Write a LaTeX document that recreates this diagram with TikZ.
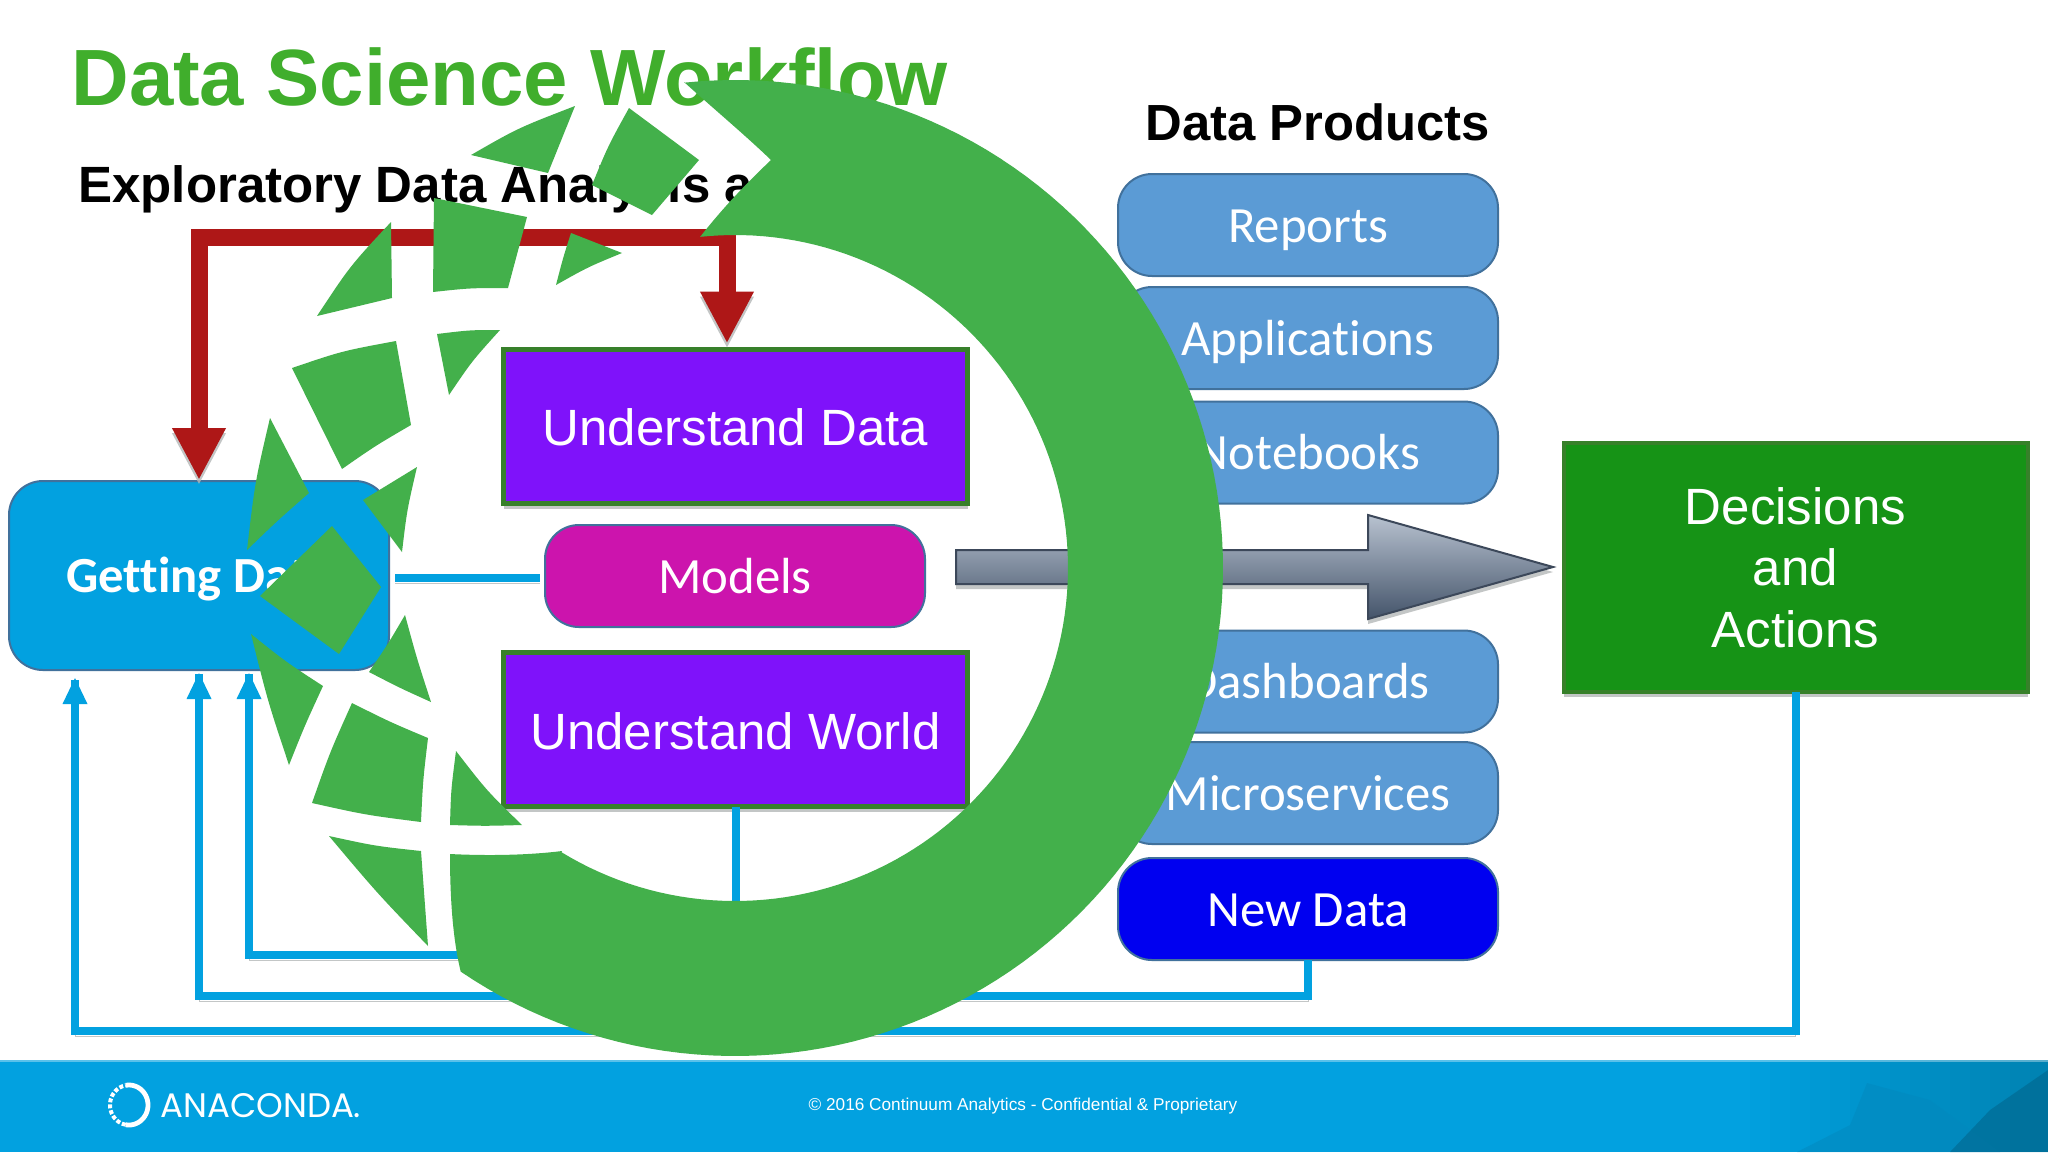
\documentclass[tikz,border=0pt]{standalone}
\usepackage{fontspec}
\setmainfont{Liberation Sans}
\newfontfamily\calfont[Ligatures=NoCommon]{Carlito}
\newfontfamily\logofont{Poppins}
\usetikzlibrary{arrows.meta,calc}
\definecolor{ringg}{HTML}{43B04B}
\definecolor{titleg}{HTML}{40AE2C}
\definecolor{redl}{HTML}{AE1717}
\definecolor{cyanb}{HTML}{02A1E0}
\definecolor{purp}{HTML}{7F12FA}
\definecolor{magb}{HTML}{CC14AD}
\definecolor{prod}{HTML}{5B9BD5}
\definecolor{decg}{HTML}{169316}
\definecolor{darkg}{HTML}{37802A}
\definecolor{edgeb}{HTML}{41719C}
\definecolor{shgray}{HTML}{B5B8B8}
\definecolor{newb}{HTML}{0000F0}
\definecolor{arrtop}{HTML}{B8C2D0}
\definecolor{arrbot}{HTML}{44546A}
\definecolor{arredge}{HTML}{3C485A}
\tikzset{
 allbox/.style={inner sep=0pt,outer sep=0pt,align=center,text=white},
 prodbox/.style={allbox,draw=edgeb,line width=1pt,fill=prod,rounded corners=17pt,minimum width=190pt,minimum height=51pt,text height=17.4pt,text depth=0pt,font=\calfont\fontsize{25.4}{28}\selectfont},
 purpbox/.style={allbox,draw=darkg,line width=2.5pt,fill=purp,minimum width=232pt,minimum height=77pt,text height=19pt,text depth=0pt,font=\fontsize{25.5}{28}\selectfont},
 shad/.style={preaction={draw=shgray,opacity=.8,transform canvas={yshift=-2.5pt}}},
 boxshad/.style={preaction={fill=shgray,draw=none,opacity=.8,transform canvas={yshift=-2.5pt}}},
 cyanline/.style={draw=cyanb,line width=4pt,shad},
 redline/.style={draw=redl,line width=8.5pt,shad,{Triangle[length=26pt,width=25pt]}-{Triangle[length=26pt,width=25pt]}},
 ringpart/.style={fill=ringg,draw=none},
}
\begin{document}
\begin{tikzpicture}[x=0.5pt,y=-0.5pt]
\useasboundingbox (0,0) rectangle (2048,1152);
\fill[white] (0,0) rectangle (2048,1152);
% footer
\fill[cyanb] (0,1060) rectangle (2048,1152);
\foreach \i in {0,...,14} {\fill[black,opacity=.012] ({1750+20*\i},1060) rectangle (2048,1152);}
\fill[cyanb!85!black,opacity=.5] (1797,1152) -- (1850,1125) -- (1867,1083) -- (1930,1100) -- (2000,1152) -- cycle;
\fill[cyanb!60!black,opacity=.5] (1950,1152) -- (1990,1110) -- (2048,1070) -- (2048,1152) -- cycle;
\fill[white,opacity=.35] (0,1059) rectangle (2048,1062);
\draw[white,line width=2.4pt] plot[domain=-100:100,samples=40] ({129+19*cos(\x)},{1105+20*sin(\x)});
\draw[white,line width=2pt,dash pattern=on 2pt off 1pt] plot[domain=100:260,samples=40] ({129+19*cos(\x)},{1105+20*sin(\x)});
\node[anchor=base west,inner sep=0pt,text=white,font=\logofont\fontsize{17}{18}\selectfont] (logo) at (160,1117) {ANACONDA.};
\node[anchor=center,inner sep=0pt,text=white,font=\fontsize{8.6}{10}\selectfont] (copy) at (1023,1106.5) {© 2016 Continuum Analytics - Confidential \& Proprietary};
% titles
\node[anchor=base west,inner sep=0pt,text=titleg,font=\bfseries\fontsize{39.9}{40}\selectfont] (title) at (71,105) {Data Science Workflow};
\node[anchor=base west,inner sep=0pt,text=black,font=\bfseries\fontsize{25.5}{26}\selectfont] (sub) at (78,202) {Exploratory Data Analysis a};
\node[anchor=base west,inner sep=0pt,text=black,font=\bfseries\fontsize{25.4}{26}\selectfont] (dp) at (1145,140) {Data Products};
% boxes
\node[allbox,draw=edgeb,line width=1pt,fill=cyanb,rounded corners=17pt,minimum width=190pt,minimum height=94.5pt,text height=16.8pt,text depth=0pt,font=\calfont\bfseries\fontsize{25.3}{28}\selectfont] (gd) at (199,575.5) {Getting Data};
\node[prodbox] (rep) at (1308,225) {Reports};
\node[prodbox] (app) at (1308,338) {Applications};
\node[prodbox] (note) at (1308,452.5) {Notebooks};
\node[prodbox] (dash) at (1308,681.5) {Dashboards};
\node[prodbox] (micro) at (1308,793) {Microservices};
\node[prodbox,fill=newb] (new) at (1308,909) {New Data};
\node[purpbox,boxshad] (ud) at (735.5,426.5) {Understand Data};
\node[purpbox,boxshad,text height=20pt] (uw) at (735.5,729.5) {Understand World};
\node[prodbox,fill=magb] (models) at (735,576) {Models};
\node[allbox,draw=darkg,line width=2pt,fill=decg,minimum width=232pt,minimum height=124.5pt,font=\fontsize{25.5}{30.7}\selectfont,boxshad] (dec) at (1795.5,567.5) {Decisions\\and\\Actions};
% gray arrow
\fill[shgray,opacity=.8] (956,555) -- (1368,555) -- (1368,520) -- (1553,572) -- (1368,624) -- (1368,589) -- (956,589) -- cycle;
\path[draw=arredge,line width=1pt,top color=arrtop,bottom color=arrbot] (956,550) -- (1368,550) -- (1368,515) -- (1553,567) -- (1368,619) -- (1368,584) -- (956,584) -- cycle;
% connectors
\coordinate (redL) at (199,237);
\coordinate (redR) at (727,237);
\draw[redline] ($(gd.north)+(0,-1)$) -- (redL) -- (redR) -- ($(ud.north)+(-8.5,-6)$);
\draw[cyanline,shorten <=3pt,shorten >=2.5pt] ($(gd.east)+(0,2.5)$) -- ($(models.west)+(0,2)$);
\coordinate (c1) at (75,1031);
\coordinate (c2) at (199,996);
\coordinate (c3) at (249,955);
\draw[cyanline] (dec.south) -- (dec.south |- c1) -- (c1) -- ($(c1 |- gd.south)+(0,10)$);
\draw[cyanline] (new.south) -- (new.south |- c2) -- (c2) -- ($(c2 |- gd.south)+(0,4)$);
\draw[cyanline] (uw.south) -- (uw.south |- c3) -- (c3) -- ($(c3 |- gd.south)+(0,4)$);
\fill[cyanb] ($(c1 |- gd.south)+(0,8)$) -- ++(12.5,26) -- ++(-25,0) -- cycle;
\fill[cyanb] ($(c2 |- gd.south)+(0,3)$) -- ++(12.5,26) -- ++(-25,0) -- cycle;
\fill[cyanb] ($(c3 |- gd.south)+(0,3)$) -- ++(12.5,26) -- ++(-25,0) -- cycle;
% ring
\fill[ringpart] plot[domain=-96:124.2,samples=120] ({735+488*cos(\x)},{568+488*sin(\x)})
  .. controls (453,940) and (450,900) .. (450,854)
  .. controls (490,856) and (530,855) .. (562,851)
  -- plot[domain=121.4:-96,samples=120] ({735+333*cos(\x)},{568+333*sin(\x)})
  .. controls (725,205) and (750,180) .. (771,160)
  .. controls (745,135) and (715,110) .. (684,82) -- cycle;
% fragments
\fill[ringpart] (575,106) -- (548,173) -- (471,155) .. controls (518,128) .. (575,106) -- cycle;
\fill[ringpart] (629,108) -- (699,160) -- (652,215) -- (592,185) .. controls (608,146) .. (629,108) -- cycle;
\fill[ringpart] (391,222) -- (392,298) -- (317,316) .. controls (350,266) .. (391,222) -- cycle;
\fill[ringpart] (434,198) -- (527,217) -- (508,288) .. controls (470,288) .. (433,292) -- cycle;
\fill[ringpart] (571,233) -- (622,253) .. controls (588,267) .. (556,285) .. controls (563,258) .. (571,233) -- cycle;
\fill[ringpart] (437,334) .. controls (470,330) .. (500,330) .. controls (472,361) .. (449,395) -- cycle;
\fill[ringpart] (292,368) .. controls (342,351) .. (396,341) -- (411,425) .. controls (375,446) .. (342,469) -- cycle;
\fill[ringpart] (270,418) -- (309,493) .. controls (277,521) .. (247,550) .. controls (255,482) .. (270,418) -- cycle;
\fill[ringpart] (417,467) .. controls (407,510) .. (402,552) -- (363,500) .. controls (390,484) .. (417,467) -- cycle;
\fill[ringpart] (332,526) -- (381,587) -- (339,654) -- (260,596) -- cycle;
\fill[ringpart] (251,634) .. controls (286,662) .. (323,686) .. controls (305,725) .. (289,765) .. controls (268,702) .. (251,634) -- cycle;
\fill[ringpart] (405,615) .. controls (417,659) .. (431,702) .. controls (400,688) .. (369,672) .. controls (388,644) .. (405,615) -- cycle;
\fill[ringpart] (352,703) .. controls (390,722) .. (428,738) .. controls (423,780) .. (421,822) .. controls (366,815) .. (312,803) .. controls (330,752) .. (352,703) -- cycle;
\fill[ringpart] (456,751) .. controls (487,791) .. (522,825) .. controls (485,826) .. (450,825) .. controls (451,790) .. (456,751) -- cycle;
\fill[ringpart] (329,836) .. controls (375,846) .. (421,851) .. controls (424,899) .. (428,946) .. controls (377,893) .. (329,836) -- cycle;
\end{tikzpicture}
\end{document}
